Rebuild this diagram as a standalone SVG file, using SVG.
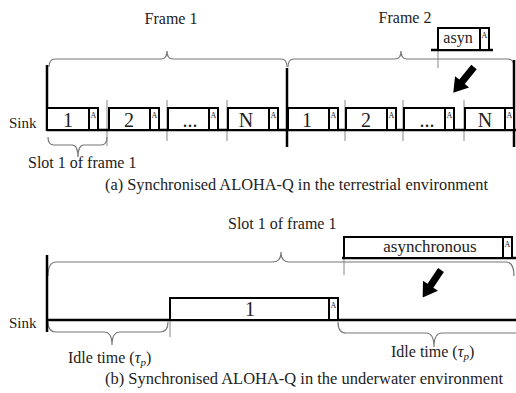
<svg xmlns="http://www.w3.org/2000/svg" width="516" height="393" viewBox="0 0 516 393">
<defs>
<style>
.t{font-family:"Liberation Serif","Times New Roman","DejaVu Serif",serif;fill:#222}
.lbl{font-size:16px}
.num{font-size:20px;text-anchor:middle}
.ack{font-size:8px;text-anchor:middle;font-family:"Liberation Serif","DejaVu Serif",serif;fill:#222}
.box{fill:#fff;stroke:#000;stroke-width:2}
.thick{stroke:#000;stroke-width:2.5;fill:none}
.sep{stroke:#888;stroke-width:1;fill:none}
.brace{stroke:#777;stroke-width:1.2;fill:none}
.arrow{fill:#000}
</style>
<g id="arrowShape"><polygon points="0,-3.5 19,-3.5 19,-9 33,0 19,9 19,3.5 0,3.5"/></g>
</defs>
<rect width="516" height="393" fill="#fff"/>

<g id="frame-labels">
<text class="t lbl" x="171" y="24" text-anchor="middle" font-family="Liberation Serif, serif">Frame 1</text>
<text class="t lbl" x="405" y="23" text-anchor="middle" font-family="Liberation Serif, serif">Frame 2</text>
</g>
<g id="connectors">
<path class="brace" d="M49,67 Q49,59 55,59 L161,59 Q167,59 167,51 Q167,59 173,59 L281,59 Q287,59 287,67"/>
<path class="brace" d="M288,67 Q288,59 294,59 L395,59 Q401,59 401,51 Q401,59 407,59 L508,59 Q514,59 514,67"/>
<path class="brace" d="M48,137 Q48,145 54,145 L72,145 Q78,145 78,157 Q78,145 84,145 L101,145 Q107,145 107,137"/>
<line class="sep" x1="107" y1="100" x2="107" y2="146"/>
<line class="sep" x1="167" y1="100" x2="167" y2="141"/>
<line class="sep" x1="227" y1="100" x2="227" y2="141"/>
<line class="sep" x1="345" y1="100" x2="345" y2="141"/>
<line class="sep" x1="403" y1="100" x2="403" y2="141"/>
<line class="sep" x1="464" y1="100" x2="464" y2="141"/>
<line class="sep" x1="438" y1="50" x2="438" y2="68"/>
<line class="thick" x1="47" y1="65" x2="47" y2="131"/>
<line class="thick" x1="287" y1="68" x2="287" y2="147"/>
<line class="thick" x1="514" y1="60" x2="514" y2="147"/>
<line class="thick" x1="47" y1="130" x2="516" y2="130"/>
<line class="thick" x1="431" y1="50" x2="493" y2="50"/>
<use href="#arrowShape" class="arrow" transform="translate(474,67) rotate(128.9)"/>
<path class="brace" d="M48,276 Q48,262 56,262 L273,262 Q281,262 281,252 Q281,262 289,262 L506,262 Q514,262 514,276"/>
<path class="brace" d="M48,322 Q48,332 56,332 L104,332 Q112,332 112,345 Q112,332 120,332 L160,332 Q168,332 168,322"/>
<path class="brace" d="M338,322 Q338,333 346,333 L426,333 Q434,333 434,347 Q434,333 442,333 L520,333"/>
<line class="sep" x1="170" y1="320" x2="170" y2="337"/>
<line class="sep" x1="344" y1="258" x2="344" y2="275"/>
<line class="thick" x1="47" y1="255" x2="47" y2="332"/>
<line class="thick" x1="47" y1="320" x2="516" y2="320"/>
<line class="thick" x1="342" y1="258" x2="516" y2="258"/>
<use href="#arrowShape" class="arrow" transform="translate(441,270) rotate(123.7)"/>
</g>

<g id="sink-a"><text class="t" x="9" y="128" font-size="15" font-family="Liberation Serif, serif">Sink</text></g>

<g id="f1-slot1"><rect class="box" x="47" y="108" width="51" height="22"/><rect class="box" x="89" y="108" width="9" height="22"/><text class="ack" x="93.5" y="118">A</text><text class="t num" x="68" y="127" font-family="Liberation Serif, serif">1</text></g>
<g id="f1-slot2"><rect class="box" x="109" y="108" width="50" height="22"/><rect class="box" x="150" y="108" width="9" height="22"/><text class="ack" x="154.5" y="118">A</text><text class="t num" x="129" y="127" font-family="Liberation Serif, serif">2</text></g>
<g id="f1-slot3"><rect class="box" x="168" y="108" width="50" height="22"/><rect class="box" x="209" y="108" width="9" height="22"/><text class="ack" x="213.5" y="118">A</text><text class="t num" x="190" y="127" font-family="Liberation Serif, serif">...</text></g>
<g id="f1-slotN"><rect class="box" x="228" y="108" width="50" height="22"/><rect class="box" x="269" y="108" width="9" height="22"/><text class="ack" x="273.5" y="118">A</text><text class="t num" x="246" y="127" font-family="Liberation Serif, serif">N</text></g>

<g id="f2-slot1"><rect class="box" x="288" y="108" width="50" height="22"/><rect class="box" x="329" y="108" width="9" height="22"/><text class="ack" x="333.5" y="118">A</text><text class="t num" x="307" y="127" font-family="Liberation Serif, serif">1</text></g>
<g id="f2-slot2"><rect class="box" x="346" y="108" width="50" height="22"/><rect class="box" x="387" y="108" width="9" height="22"/><text class="ack" x="391.5" y="118">A</text><text class="t num" x="366" y="127" font-family="Liberation Serif, serif">2</text></g>
<g id="f2-slot3"><rect class="box" x="404" y="108" width="50" height="22"/><rect class="box" x="445" y="108" width="9" height="22"/><text class="ack" x="449.5" y="118">A</text><text class="t num" x="427" y="127" font-family="Liberation Serif, serif">...</text></g>
<g id="f2-slotN"><rect class="box" x="465" y="108" width="49" height="22"/><rect class="box" x="505" y="108" width="9" height="22"/><text class="ack" x="509.5" y="118">A</text><text class="t num" x="485" y="127" font-family="Liberation Serif, serif">N</text></g>

<g id="asyn"><rect class="box" x="438" y="28" width="51" height="22"/><rect class="box" x="480" y="28" width="9" height="22"/><text class="ack" x="484.5" y="38">A</text><text class="t" x="458" y="43" font-size="16" text-anchor="middle" font-family="Liberation Serif, serif">asyn</text></g>

<g id="slot-label-a"><text class="t lbl" x="28" y="168" font-family="Liberation Serif, serif">Slot 1 of frame 1</text></g>
<g id="caption-a"><text class="t" x="105" y="190" font-size="16" font-family="Liberation Serif, serif" textLength="383" lengthAdjust="spacingAndGlyphs">(a) Synchronised ALOHA-Q in the terrestrial environment</text></g>

<g id="slot-label-b"><text class="t lbl" x="228" y="229" font-family="Liberation Serif, serif">Slot 1 of frame 1</text></g>
<g id="sink-b"><text class="t" x="9" y="328" font-size="15" font-family="Liberation Serif, serif">Sink</text></g>
<g id="b-slot1"><rect class="box" x="170" y="298" width="168" height="22"/><rect class="box" x="329" y="298" width="9" height="22"/><text class="ack" x="333.5" y="308">A</text><text class="t num" x="250" y="316" font-family="Liberation Serif, serif">1</text></g>
<g id="b-async"><rect class="box" x="344" y="237" width="168" height="21"/><rect class="box" x="503" y="237" width="9" height="21"/><text class="ack" x="507.5" y="247">A</text><text class="t" x="430" y="252" font-size="17" text-anchor="middle" font-family="Liberation Serif, serif">asynchronous</text></g>
<g id="idle-1"><text class="t lbl" x="68" y="363" font-family="Liberation Serif, serif">Idle time (<tspan font-style="italic">τ</tspan><tspan font-style="italic" font-size="11" dy="3">p</tspan><tspan dy="-3">)</tspan></text></g>
<g id="idle-2"><text class="t lbl" x="391" y="357" font-family="Liberation Serif, serif">Idle time (<tspan font-style="italic">τ</tspan><tspan font-style="italic" font-size="11" dy="3">p</tspan><tspan dy="-3">)</tspan></text></g>
<g id="caption-b"><text class="t" x="105" y="384" font-size="16" font-family="Liberation Serif, serif" textLength="398" lengthAdjust="spacingAndGlyphs">(b) Synchronised ALOHA-Q in the underwater environment</text></g>
</svg>
